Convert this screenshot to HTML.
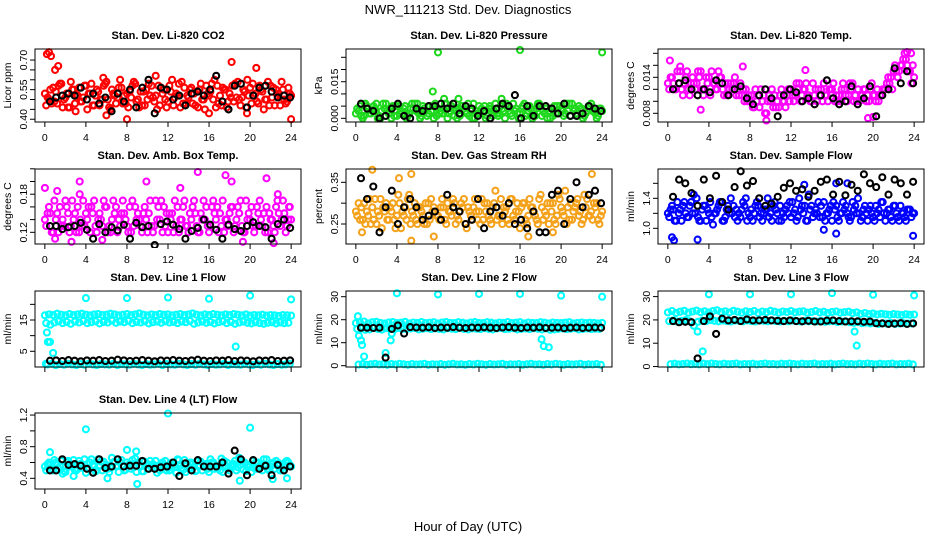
<!DOCTYPE html>
<html><head><meta charset="utf-8"><style>
html,body{margin:0;padding:0;background:#fff;}
svg{display:block;font-family:"Liberation Sans",Arial,sans-serif;}
</style></head><body>
<svg id="fig" width="936" height="540" viewBox="0 0 936 540" xmlns="http://www.w3.org/2000/svg">
<text x="468" y="14" text-anchor="middle" font-size="13">NWR_111213 Std. Dev. Diagnostics</text>
<text x="468" y="531" text-anchor="middle" font-size="13">Hour of Day (UTC)</text>
</svg>
<script>
const xTicks=[0,4,8,12,16,20,24];
// ---- panel 1 CO2
const co2A=[0.53,0.50,0.56,0.48,0.58,0.51,0.46,0.55,0.52,0.49,0.57,0.53,0.47,0.54,0.50,0.59,0.45,0.52,0.56,0.48,0.53,0.51,0.58,0.46,0.54,0.50,0.57,0.52,0.47,0.55,0.49,0.60,0.53,0.46,0.56,0.51,0.48,0.54,0.58,0.45,0.52,0.50,0.57,0.47,0.55,0.53,0.49,0.59,0.51,0.46,0.56,0.52,0.48,0.54,0.50,0.57,0.47,0.53,0.55,0.49,0.52];
const co2B=[0.47,0.55,0.49,0.57,0.46,0.53,0.59,0.48,0.56,0.51,0.45,0.58,0.52,0.47,0.57,0.50,0.55,0.48,0.60,0.52,0.46,0.57,0.49,0.54,0.47,0.58,0.51,0.45,0.56,0.50,0.57,0.47,0.52,0.59,0.48,0.55,0.53,0.46,0.50,0.57,0.54,0.60,0.48,0.56,0.46,0.51,0.58,0.50,0.55,0.60,0.48,0.53,0.57,0.45,0.59,0.51,0.55,0.47,0.50,0.56];
const co2C=[0.51,0.48,0.54,0.58,0.50,0.46,0.55,0.52,0.49,0.57,0.53,0.47,0.55,0.50,0.58,0.46,0.53,0.51,0.56,0.48,0.54,0.59,0.50,0.47,0.55,0.52,0.49,0.57,0.53,0.46,0.54,0.51,0.58,0.48,0.52,0.56,0.47,0.55,0.50,0.53,0.58,0.46,0.52,0.55,0.49,0.57,0.51,0.47,0.54,0.52,0.58,0.49,0.55,0.50,0.47,0.56,0.52,0.59,0.48,0.53];
const co2OutT=[0.2,0.4,0.6,1.0,1.3,8.0,18.2,20.6,24.0,6.0,16.0,3.0,10.8,5.7,19.7];
const co2OutV=[0.73,0.74,0.72,0.65,0.67,0.40,0.69,0.66,0.40,0.42,0.43,0.44,0.62,0.61,0.43];
const co2K=[0.49,0.51,0.52,0.53,0.52,0.56,0.50,0.53,0.48,0.51,0.44,0.53,0.49,0.55,0.46,0.56,0.60,0.43,0.56,0.55,0.50,0.52,0.47,0.53,0.54,0.52,0.55,0.62,0.49,0.45,0.57,0.58,0.46,0.52,0.56,0.57,0.54,0.51,0.52,0.51];
// ---- panel 2 pressure
const prA=[0.002,0.005,0.001,0.004,0.003,0.006,0.000,0.004,0.002,0.005,0.001,0.003,0.005,0.002,0.004,0.006,0.001,0.003,0.005,0.000,0.004,0.002,0.006,0.003,0.001,0.004,0.005,0.002,0.003,0.000,0.005,0.003,0.001,0.004,0.006,0.002,0.003,0.005,0.001,0.004,0.002,0.006,0.003,0.000,0.004,0.005,0.002,0.003,0.001,0.005,0.004,0.002,0.006,0.003,0.001,0.004,0.002,0.005,0.003,0.001,0.003];
const prB=[0.004,0.001,0.006,0.002,0.005,0.000,0.003,0.006,0.004,0.001,0.005,0.002,0.000,0.004,0.006,0.002,0.005,0.001,0.003,0.006,0.002,0.004,0.000,0.005,0.003,0.001,0.004,0.006,0.000,0.003,0.002,0.005,0.004,0.001,0.002,0.005,0.000,0.003,0.006,0.002,0.004,0.001,0.005,0.003,0.006,0.001,0.004,0.000,0.005,0.002,0.003,0.006,0.001,0.004,0.005,0.000,0.003,0.006,0.002,0.004];
const prC=[0.003,0.000,0.005,0.002,0.004,0.001,0.006,0.003,0.000,0.005,0.002,0.004,0.001,0.006,0.003,0.000,0.004,0.002,0.005,0.001,0.003,0.006,0.002,0.004,0.000,0.005,0.003,0.001,0.006,0.002,0.004,0.000,0.005,0.003,0.001,0.004,0.006,0.002,0.003,0.000,0.005,0.002,0.004,0.001,0.006,0.003,0.000,0.004,0.002,0.005,0.001,0.003,0.006,0.002,0.004,0.001,0.005,0.003,0.000,0.004];
const prOutT=[8,16,24,7.5,8.6,14.2,10.0];
const prOutV=[0.027,0.028,0.027,0.011,0.008,0.008,0.008];
const prK=[0.006,0.004,0.003,0.000,0.001,0.004,0.006,0.001,0.000,0.004,0.003,0.005,0.005,0.006,0.004,0.006,0.002,0.005,0.004,0.001,0.003,0.000,0.004,0.006,0.005,0.0095,0.000,0.005,0.001,0.005,0.005,0.004,0.002,0.006,0.001,0.001,0.002,0.005,0.004,0.003];
// ---- panel 3 Li-820 temp
const ltA=[0.013,0.014,0.012,0.015,0.013,0.012,0.014,0.013,0.015,0.012,0.014,0.013,0.012,0.014,0.013,0.012,0.013,0.012,0.011,0.012,0.010,0.009,0.011,0.010,0.008,0.010,0.011,0.009,0.010,0.011,0.012,0.011,0.013,0.012,0.011,0.010,0.012,0.011,0.013,0.010,0.012,0.011,0.010,0.012,0.011,0.013,0.010,0.011,0.012,0.010,0.011,0.012,0.011,0.012,0.013,0.015,0.014,0.016,0.017,0.015,0.014];
const ltB=[0.012,0.013,0.015,0.012,0.014,0.011,0.013,0.015,0.012,0.014,0.011,0.013,0.015,0.012,0.011,0.013,0.014,0.011,0.012,0.010,0.011,0.012,0.009,0.011,0.010,0.012,0.009,0.011,0.010,0.012,0.011,0.013,0.010,0.012,0.011,0.013,0.010,0.012,0.011,0.012,0.013,0.010,0.012,0.011,0.013,0.010,0.012,0.011,0.010,0.012,0.011,0.010,0.012,0.013,0.014,0.016,0.015,0.017,0.016,0.013];
const ltC=[0.014,0.012,0.013,0.011,0.015,0.013,0.012,0.014,0.011,0.013,0.015,0.012,0.014,0.011,0.013,0.012,0.011,0.013,0.010,0.011,0.009,0.010,0.012,0.008,0.011,0.009,0.010,0.012,0.009,0.010,0.010,0.012,0.011,0.013,0.010,0.011,0.012,0.010,0.011,0.012,0.010,0.011,0.013,0.010,0.012,0.011,0.010,0.012,0.011,0.013,0.010,0.011,0.012,0.014,0.012,0.015,0.016,0.018,0.015,0.016];
const ltOutT=[0.2,1.2,7.3,3.2,9.6,13.4,19.5,20.0,23.3,23.7];
const ltOutV=[0.0168,0.0158,0.0158,0.0086,0.0068,0.0152,0.0072,0.0074,0.0182,0.0180];
const ltK=[0.012,0.013,0.0135,0.012,0.011,0.012,0.0115,0.0135,0.013,0.011,0.012,0.0125,0.0105,0.0095,0.011,0.012,0.0105,0.0075,0.011,0.012,0.0115,0.010,0.0105,0.0095,0.011,0.0135,0.0105,0.0095,0.010,0.0125,0.0095,0.0105,0.0125,0.0075,0.011,0.012,0.0155,0.013,0.015,0.013];
// ---- panel 4 amb box temp
const abA=[0.14,0.16,0.12,0.15,0.13,0.17,0.12,0.14,0.16,0.13,0.15,0.12,0.17,0.14,0.13,0.16,0.12,0.15,0.14,0.17,0.13,0.12,0.16,0.14,0.15,0.12,0.13,0.17,0.14,0.16,0.12,0.15,0.13,0.14,0.17,0.12,0.16,0.13,0.15,0.14,0.12,0.17,0.16,0.13,0.14,0.15,0.12,0.16,0.13,0.17,0.14,0.12,0.15,0.13,0.16,0.14,0.12,0.15,0.17,0.13,0.14];
const abB=[0.13,0.15,0.17,0.12,0.14,0.16,0.13,0.15,0.12,0.17,0.14,0.16,0.13,0.15,0.17,0.12,0.14,0.16,0.13,0.15,0.12,0.17,0.14,0.13,0.16,0.15,0.12,0.14,0.17,0.13,0.15,0.12,0.16,0.14,0.13,0.15,0.17,0.12,0.14,0.16,0.13,0.15,0.12,0.17,0.14,0.16,0.13,0.15,0.12,0.14,0.16,0.13,0.17,0.15,0.12,0.14,0.16,0.13,0.15,0.14];
const abC=[0.15,0.12,0.14,0.16,0.13,0.15,0.17,0.12,0.14,0.13,0.16,0.15,0.12,0.14,0.16,0.13,0.17,0.12,0.15,0.14,0.16,0.13,0.15,0.12,0.14,0.17,0.13,0.16,0.12,0.15,0.14,0.17,0.12,0.16,0.13,0.14,0.15,0.12,0.17,0.13,0.16,0.14,0.15,0.12,0.13,0.16,0.14,0.17,0.12,0.15,0.13,0.16,0.14,0.12,0.15,0.13,0.17,0.14,0.12,0.16];
const abOutT=[0,1.2,3.4,3.4,9.9,13.2,14.9,17.6,18.2,21.6,22.7,23.8,1.0,2.6,5.6,19.3,22.3];
const abOutV=[0.19,0.185,0.20,0.18,0.20,0.19,0.215,0.21,0.20,0.205,0.18,0.16,0.11,0.105,0.108,0.105,0.103];
const abK=[0.13,0.13,0.125,0.128,0.13,0.135,0.124,0.11,0.133,0.12,0.128,0.123,0.132,0.11,0.135,0.128,0.13,0.10,0.133,0.137,0.132,0.125,0.11,0.122,0.127,0.14,0.132,0.124,0.11,0.132,0.125,0.122,0.13,0.136,0.13,0.128,0.11,0.133,0.14,0.127];
// ---- panel 5 gas stream RH
const rhA=[0.28,0.26,0.30,0.27,0.29,0.25,0.31,0.28,0.26,0.30,0.27,0.24,0.29,0.32,0.27,0.25,0.28,0.30,0.26,0.29,0.27,0.31,0.25,0.28,0.30,0.26,0.29,0.24,0.27,0.31,0.28,0.26,0.30,0.25,0.33,0.27,0.29,0.26,0.31,0.28,0.24,0.30,0.27,0.29,0.26,0.32,0.28,0.25,0.30,0.27,0.29,0.33,0.26,0.28,0.31,0.25,0.29,0.27,0.30,0.26,0.28];
const rhB=[0.27,0.29,0.25,0.31,0.26,0.28,0.24,0.30,0.29,0.26,0.32,0.28,0.26,0.25,0.30,0.29,0.27,0.25,0.31,0.28,0.26,0.29,0.30,0.27,0.25,0.28,0.31,0.29,0.26,0.28,0.25,0.30,0.27,0.29,0.26,0.31,0.28,0.25,0.27,0.30,0.29,0.26,0.31,0.28,0.25,0.29,0.27,0.30,0.26,0.32,0.28,0.25,0.30,0.29,0.27,0.26,0.31,0.28,0.29,0.25];
const rhC=[0.30,0.26,0.28,0.25,0.31,0.27,0.29,0.26,0.28,0.24,0.30,0.27,0.31,0.28,0.26,0.29,0.25,0.30,0.28,0.27,0.29,0.26,0.28,0.31,0.27,0.30,0.25,0.28,0.29,0.26,0.31,0.28,0.26,0.30,0.27,0.25,0.29,0.31,0.26,0.28,0.30,0.25,0.29,0.27,0.31,0.26,0.30,0.28,0.25,0.31,0.27,0.29,0.26,0.30,0.28,0.32,0.27,0.26,0.30,0.27];
const rhOutT=[1.6,5.4,5.4,0.6,23.0,16.8,19.2,7.6,4.2];
const rhOutV=[0.38,0.37,0.21,0.23,0.37,0.22,0.23,0.22,0.36];
const rhK=[0.36,0.31,0.34,0.23,0.29,0.33,0.25,0.29,0.31,0.29,0.26,0.27,0.28,0.26,0.32,0.29,0.28,0.25,0.26,0.31,0.24,0.28,0.29,0.27,0.30,0.25,0.26,0.24,0.28,0.23,0.23,0.32,0.33,0.25,0.31,0.35,0.29,0.32,0.33,0.30];
// ---- panel 6 sample flow
const sfA=[1.2,1.3,1.1,1.25,1.35,1.15,1.2,1.4,1.1,1.3,1.2,1.05,1.25,1.35,1.15,1.2,1.3,1.1,1.25,1.4,1.15,1.2,1.3,1.1,1.25,1.2,1.35,1.1,1.2,1.3,1.15,1.25,1.4,1.2,1.1,1.3,1.25,1.15,1.35,1.2,1.1,1.3,1.2,1.25,1.15,1.35,1.2,1.1,1.3,1.25,1.15,1.2,1.35,1.1,1.25,1.3,1.15,1.2,1.1,1.25,1.2];
const sfB=[1.15,1.25,1.35,1.1,1.2,1.3,1.45,1.15,1.25,1.1,1.35,1.2,1.3,1.1,1.25,1.4,1.15,1.2,1.35,1.1,1.25,1.3,1.15,1.2,1.4,1.1,1.25,1.3,1.15,1.2,1.35,1.1,1.25,1.3,1.45,1.15,1.2,1.3,1.1,1.25,1.35,1.15,1.2,1.3,1.1,1.25,1.4,1.15,1.2,1.3,1.1,1.25,1.35,1.2,1.15,1.3,1.1,1.2,1.25,1.15];
const sfC=[1.25,1.1,1.2,1.3,1.15,1.35,1.2,1.1,1.3,1.25,1.15,1.2,1.35,1.1,1.3,1.2,1.25,1.15,1.3,1.2,1.1,1.35,1.2,1.25,1.15,1.3,1.2,1.1,1.25,1.35,1.2,1.15,1.3,1.1,1.25,1.2,1.35,1.15,1.2,1.3,1.25,1.1,1.35,1.2,1.15,1.3,1.2,1.25,1.1,1.2,1.3,1.15,1.2,1.25,1.1,1.2,1.3,1.15,1.25,1.2];
const sfOutT=[0.4,0.6,2.9,23.9,16.4,15.2,17.5,16.4,13.3];
const sfOutV=[0.88,0.84,0.85,0.9,0.93,0.98,1.6,1.6,1.58];
const sfK=[1.42,1.65,1.6,1.47,1.3,1.65,1.4,1.7,1.35,1.25,1.55,1.76,1.57,1.63,1.4,1.3,1.33,1.42,1.54,1.6,1.5,1.52,1.42,1.5,1.62,1.65,1.45,1.62,1.44,1.58,1.5,1.72,1.6,1.55,1.68,1.45,1.65,1.6,1.45,1.62];
// ---- panel 7 line 1 flow
const l1A=[16.5,16.8,16.6,17,16.7,16.5,16.9,16.6,16.8,17,16.7,16.5,16.8,16.9,16.6,16.7,17,16.8,16.5,16.7,16.9,16.6,16.8,17.1,16.7,16.5,16.8,16.6,16.9,16.7,16.8,16.5,16.7,16.9,16.6,16.8,17.1,16.7,16.5,16.8,16.6,16.9,16.7,16.5,16.8,16.6,16.9,16.7,16.5,16.8,16.4,16.6,16.5,16.7,16.4,16.6,16.5,16.3,16.6,16.5,16.4];
const l1B=[14,13.5,14.2,14.6,14,14.4,13.8,14.5,14.2,14.7,14,14.3,14.6,13.9,14.4,14.2,14.8,14.1,14.5,14.3,14.7,14,14.4,14.2,14.6,13.9,14.3,14.5,14.1,14.6,14.2,14.4,14,14.5,14.3,14.7,13.8,14.2,14.5,14.1,14.4,13.9,14.3,14.6,14,14.4,13.8,14.2,14.5,14.1,13.9,14.3,14,13.8,14.1,14.3,13.9,14.2,14,14.1];
const l1C=[0.8,1,0.6,0.9,0.7,1,0.8,0.6,0.9,0.7,1,0.8,0.6,0.9,0.8,0.7,1,0.6,0.9,0.8,0.7,1,0.8,0.6,0.9,0.7,0.8,1,0.6,0.9,0.8,0.7,1,0.8,0.6,0.9,0.7,1,0.8,0.6,0.9,0.7,0.8,1,0.6,0.9,0.8,0.7,1,0.8,0.6,0.9,0.7,1,0.8,0.6,0.9,0.7,0.8,1,0.8];
const l1OutT=[0.1,0.2,0.3,0.5,0.8,4,8,12,16,20,24,18.6];
const l1OutV=[1,11,8,8,4.5,22,22,22.2,21.8,22.8,21.6,6.5];
const l1K=[2,2.1,1.9,2.2,2,1.8,2.1,2,2.2,1.9,2,2.3,2.1,1.9,2,2.2,2,1.8,2.1,2,2.2,2,1.9,2.1,2.3,2,1.9,2.1,2,2.2,1.9,2.1,2,1.8,2.1,2,2.2,1.9,2,2.1];
// ---- panel 8 line 2 flow
const l2A=[18.5,18.8,19.2,18.4,18.9,19.1,18.6,18.3,18.8,19,18.5,18.7,19.1,18.4,18.8,18.6,19,18.5,18.7,18.9,18.4,18.8,19,18.6,18.5,18.9,18.7,18.4,18.8,19,18.6,18.5,18.9,18.7,18.4,18.8,18.6,19,18.5,18.7,18.9,18.4,18.8,18.6,18.5,18.9,18.7,18.4,18.8,18.6,18.5,18.7,18.9,18.4,18.6,18.8,18.5,18.7,18.6,18.4,18.6];
const l2B=[16,16.2,15.6,15.8,16.4,16,15.7,16.3,16.1,15.8,16.4,16,15.9,16.2,16.4,15.8,16.1,16.3,15.9,16.2,16,15.8,16.3,16.1,15.9,16.4,16,15.8,16.2,16.1,15.9,16.3,16,15.8,16.2,16.4,15.9,16.1,16.3,15.8,16,16.2,15.9,16.3,16.1,15.8,16.2,15.6,15.8,16,16.2,15.9,16.1,16.3,15.8,16,16.2,15.9,16.1,16];
const l2C=[0.5,0.7,0.4,0.6,0.8,0.5,0.6,0.4,0.7,0.5,0.8,0.6,0.4,0.7,0.5,0.6,0.8,0.4,0.6,0.5,0.7,0.4,0.6,0.8,0.5,0.6,0.4,0.7,0.5,0.8,0.6,0.4,0.7,0.5,0.6,0.8,0.4,0.6,0.5,0.7,0.4,0.6,0.8,0.5,0.6,0.4,0.7,0.5,0.8,0.6,0.4,0.7,0.5,0.6,0.8,0.4,0.6,0.5,0.7,0.4,0.6];
const l2OutT=[0.2,0.3,0.5,0.6,0.8,3.4,3.5,2.9,4,8,12,16,20,24,18.1,18.3,18.8];
const l2OutV=[21.5,13,11,9,4,11,14,5.5,31.5,31,31.2,31.2,30.5,30,11.5,8.5,8];
const l2K=[16.5,16.5,16.4,16.5,3.5,16,17.5,14,16.8,16.6,16.5,16.7,16.4,16.6,16.5,16.8,16.5,16.4,16.6,16.5,16.7,16.5,16.4,16.6,16.8,16.5,16.4,16.6,16.5,16.7,16.4,16.5,16.6,16.3,16.5,16.6,16.4,16.5,16.6,16.5];
// ---- panel 9 line 3 flow
const l3A=[23.2,23.8,23,23.5,23.9,23.1,23.6,24,23.3,23.7,23.2,23.8,24.1,23.4,23.7,23.2,23.9,23.5,23.1,23.7,23.4,23.8,23,23.6,23.3,23.9,23.5,23.1,23.6,23.4,23.8,23.2,23.5,23.7,23.1,23.4,23.8,23.2,23.5,23,23.4,23.6,23.1,23.3,23.5,22.9,23.2,22.6,22.9,22.5,22.7,22.3,22.6,22.4,22.2,22.5,22.3,22.1,22.4,22.2,22.3];
const l3B=[19.5,19.8,19.3,19.6,19.9,19.4,17.5,19.2,19.7,19.5,19.9,19.6,19.4,19.8,19.5,19.3,19.7,19.6,19.4,19.8,19.5,19.3,19.7,19.6,19.4,19.8,19.5,19.3,19.6,19.4,19.7,19.5,19.3,19.6,19.4,19.5,19.3,19.6,19.2,19.4,19.5,19.1,19.3,19.4,19,18.8,19.1,18.6,18.9,18.5,18.7,18.3,18.6,18.4,18.7,18.3,18.5,18.6,18.4,18.5];
const l3C=[1.0,1.2,0.9,1.1,1.3,1.0,1.1,0.9,1.2,1.0,1.3,1.1,0.9,1.2,1.0,1.1,1.3,0.9,1.1,1.0,1.2,0.9,1.1,1.3,1.0,1.1,0.9,1.2,1.0,1.3,1.1,0.9,1.2,1.0,1.1,1.3,0.9,1.1,1.0,1.2,0.9,1.1,1.3,1.0,1.1,0.9,1.2,1.0,1.3,1.1,0.9,1.2,1.0,1.1,1.3,0.9,1.1,1.0,1.2,0.9,1.1];
const l3OutT=[4,8,12,16,20,24,2.9,3.4,18.2,18.4];
const l3OutV=[31,31,31,31.5,30.8,30.5,15,6.5,15,9];
const l3K=[19.5,19,19.2,19,3.5,19.5,21.5,14,20.5,19.8,20,19.5,20.2,19.8,19.8,20,19.8,19.6,19.5,19.8,19.5,19.4,19.6,19.3,19.3,19.7,19.8,19.5,19.3,19.4,19.4,19.2,19.3,18.6,18.5,18.3,18.4,18.6,18.3,18.5];
// ---- panel 10 line 4 flow
const l4A=[0.55,0.6,0.5,0.58,0.62,0.48,0.55,0.63,0.52,0.58,0.47,0.6,0.55,0.64,0.5,0.57,0.53,0.61,0.48,0.56,0.6,0.52,0.65,0.55,0.49,0.58,0.54,0.62,0.5,0.57,0.53,0.6,0.47,0.56,0.63,0.52,0.58,0.5,0.61,0.55,0.48,0.6,0.53,0.65,0.56,0.5,0.58,0.54,0.62,0.49,0.57,0.53,0.6,0.5,0.64,0.55,0.52,0.59,0.5,0.62,0.55];
const l4B=[0.5,0.57,0.63,0.52,0.46,0.6,0.55,0.5,0.62,0.53,0.58,0.64,0.49,0.56,0.61,0.52,0.66,0.55,0.6,0.5,0.57,0.63,0.48,0.55,0.61,0.52,0.58,0.47,0.56,0.62,0.5,0.57,0.64,0.53,0.48,0.6,0.55,0.62,0.5,0.58,0.64,0.52,0.56,0.48,0.6,0.55,0.62,0.66,0.51,0.57,0.48,0.6,0.55,0.64,0.52,0.58,0.62,0.5,0.56,0.6];
const l4C=[0.58,0.52,0.6,0.55,0.49,0.62,0.56,0.5,0.58,0.64,0.53,0.57,0.5,0.61,0.55,0.48,0.6,0.56,0.63,0.51,0.58,0.54,0.6,0.49,0.57,0.62,0.53,0.56,0.6,0.5,0.58,0.55,0.63,0.51,0.57,0.6,0.49,0.56,0.58,0.52,0.6,0.56,0.5,0.62,0.53,0.58,0.5,0.57,0.6,0.54,0.62,0.52,0.58,0.55,0.5,0.6,0.56,0.53,0.61,0.57];
const l4OutT=[4,12,20,9,0.5,8,8.9,2.8,19.0,22.2,23.6,6.1];
const l4OutV=[1.02,1.22,1.04,0.33,0.73,0.76,0.74,0.43,0.37,0.39,0.4,0.4];
const l4K=[0.5,0.5,0.64,0.57,0.58,0.56,0.52,0.47,0.64,0.53,0.55,0.64,0.55,0.56,0.56,0.62,0.52,0.52,0.54,0.55,0.6,0.43,0.59,0.5,0.63,0.55,0.55,0.55,0.6,0.46,0.75,0.64,0.44,0.63,0.52,0.56,0.44,0.57,0.5,0.55];

const NS='http://www.w3.org/2000/svg';
const svg=document.getElementById('fig');
const colL=[35,346,658], rowT=[49,169,291,413], rowB=[122,244,367,489], W=266;
function mk(tag,attrs,parent){const e=document.createElementNS(NS,tag);for(const k in attrs)e.setAttribute(k,attrs[k]);(parent||svg).appendChild(e);return e;}

const panels=[
 {c:0,r:0,title:'Stan. Dev. Li-820 CO2',yl:'Licor ppm',lo:0.386,hi:0.756,ticks:[0.40,0.45,0.50,0.55,0.60,0.65,0.70],labs:['0.40','0.55','0.70'],labv:[0.40,0.55,0.70],col:'#ff0000',ser:[co2A,co2B,co2C],out:[co2OutT,co2OutV],k:co2K,xl:true},
 {c:1,r:0,title:'Stan. Dev. Li-820 Pressure',yl:'kPa',lo:-0.0015,hi:0.0284,ticks:[0,0.005,0.010,0.015,0.020,0.025],labs:['0.000','0.015'],labv:[0,0.015],col:'#1ed81e',ser:[prA,prB,prC],out:[prOutT,prOutV],k:prK,xl:true},
 {c:2,r:0,title:'Stan. Dev. Li-820 Temp.',yl:'degrees C',lo:0.00655,hi:0.01872,ticks:[0.008,0.010,0.012,0.014,0.016,0.018],labs:['0.008','0.014'],labv:[0.008,0.014],col:'#ff00ff',ser:[ltA,ltB,ltC],out:[ltOutT,ltOutV],k:ltK,xl:true},
 {c:0,r:1,title:'Stan. Dev. Amb. Box Temp.',yl:'degrees C',lo:0.1016,hi:0.2197,ticks:[0.12,0.14,0.16,0.18,0.20,0.22],labs:['0.12','0.18'],labv:[0.12,0.18],col:'#ff00ff',ser:[abA,abB,abC],out:[abOutT,abOutV],k:abK,xl:true},
 {c:1,r:1,title:'Stan. Dev. Gas Stream RH',yl:'percent',lo:0.202,hi:0.382,ticks:[0.25,0.30,0.35],labs:['0.25','0.35'],labv:[0.25,0.35],col:'#f4a21c',ser:[rhA,rhB,rhC],out:[rhOutT,rhOutV],k:rhK,xl:true},
 {c:2,r:1,title:'Stan. Dev. Sample Flow',yl:'ml/min',lo:0.791,hi:1.791,ticks:[1.0,1.2,1.4,1.6],labs:['1.0','1.4'],labv:[1.0,1.4],col:'#0000ff',ser:[sfA,sfB,sfC],out:[sfOutT,sfOutV],k:sfK,xl:true},
 {c:0,r:2,title:'Stan. Dev. Line 1 Flow',yl:'ml/min',lo:-0.02,hi:24.27,ticks:[5,10,15,20],labs:['5','15'],labv:[5,15],col:'#00ffff',ser:[l1A,l1B,l1C],out:[l1OutT,l1OutV],k:l1K,xl:false},
 {c:1,r:2,title:'Stan. Dev. Line 2 Flow',yl:'ml/min',lo:-0.57,hi:32.48,ticks:[0,10,20,30],labs:['0','10','20','30'],labv:[0,10,20,30],col:'#00ffff',ser:[l2A,l2B,l2C],out:[l2OutT,l2OutV],k:l2K,xl:false},
 {c:2,r:2,title:'Stan. Dev. Line 3 Flow',yl:'ml/min',lo:-0.2,hi:32.4,ticks:[0,10,20,30],labs:['0','10','20','30'],labv:[0,10,20,30],col:'#00ffff',ser:[l3A,l3B,l3C],out:[l3OutT,l3OutV],k:l3K,xl:false},
 {c:0,r:3,title:'Stan. Dev. Line 4 (LT) Flow',yl:'ml/min',lo:0.265,hi:1.226,ticks:[0.4,0.6,0.8,1.0,1.2],labs:['0.4','0.8','1.2'],labv:[0.4,0.8,1.2],col:'#00ffff',ser:[l4A,l4B,l4C],out:[l4OutT,l4OutV],k:l4K,xl:true}
];

panels.forEach((p,pi)=>{
  const L=colL[p.c],T=rowT[p.r],B=rowB[p.r],H=B-T;
  const g=mk('g',{});
  
  
  const X=t=>L+W*(t+0.96)/25.92;
  const Y=v=>B-H*(v-p.lo)/(p.hi-p.lo);
  const clip=mk('clipPath',{id:'cp'+pi},g);
  mk('rect',{x:L-4,y:T-8,width:W+8,height:H+12},clip);
  const pts=mk('g',{'clip-path':'url(#cp'+pi+')'},g);
  
  
  const dot=(t,v,c)=>{const e=mk('circle',{cx:X(t).toFixed(1),cy:Y(v).toFixed(1),r:3,fill:'none',stroke:c,'stroke-width':2.1},pts);
    
    };
  const n=p.ser.length;
  p.ser.forEach((arr,si)=>{const off=si*0.4/n;arr.forEach((v,i)=>{const t=i*0.4+off;if(t<=24.05)dot(t,v,p.col);});});
  p.out[0].forEach((t,i)=>dot(t,p.out[1][i],p.col));
  p.k.forEach((v,i)=>dot(0.5+i*0.6,v,'#000'));
  const box=mk('rect',{x:L,y:T,width:W,height:H,fill:'none',stroke:'#000','stroke-width':1},g);
  
  
  const tt=mk('text',{x:L+W/2,y:T-10,'text-anchor':'middle','font-size':11,'font-weight':'bold'},g);
  tt.textContent=p.title;
  
  
  const yl=mk('text',{x:0,y:0,'text-anchor':'middle','font-size':10.5,transform:`translate(${L-24},${(T+B)/2}) rotate(-90)`},g);
  yl.textContent=p.yl;
  
  
  const ax=mk('g',{stroke:'#000','stroke-width':1},g);
  
  
  mk('line',{x1:L,x2:L,y1:Y(p.ticks[0]),y2:Y(p.ticks[p.ticks.length-1])},ax);
  p.ticks.forEach(v=>mk('line',{x1:L-5,x2:L,y1:Y(v),y2:Y(v)},ax));
  mk('line',{x1:X(0),x2:X(24),y1:B,y2:B},ax);
  xTicks.forEach(t=>mk('line',{x1:X(t),x2:X(t),y1:B,y2:B+5},ax));
  p.labs.forEach((s,i)=>{const e=mk('text',{x:0,y:0,'text-anchor':'middle','font-size':10.5,transform:`translate(${L-8},${Y(p.labv[i])}) rotate(-90)`},g);e.textContent=s;
    
    });
  if(p.xl) xTicks.forEach(t=>{const e=mk('text',{x:X(t),y:B+19,'text-anchor':'middle','font-size':10.5},g);e.textContent=String(t);
    
    });
});
</script>
</body></html>
